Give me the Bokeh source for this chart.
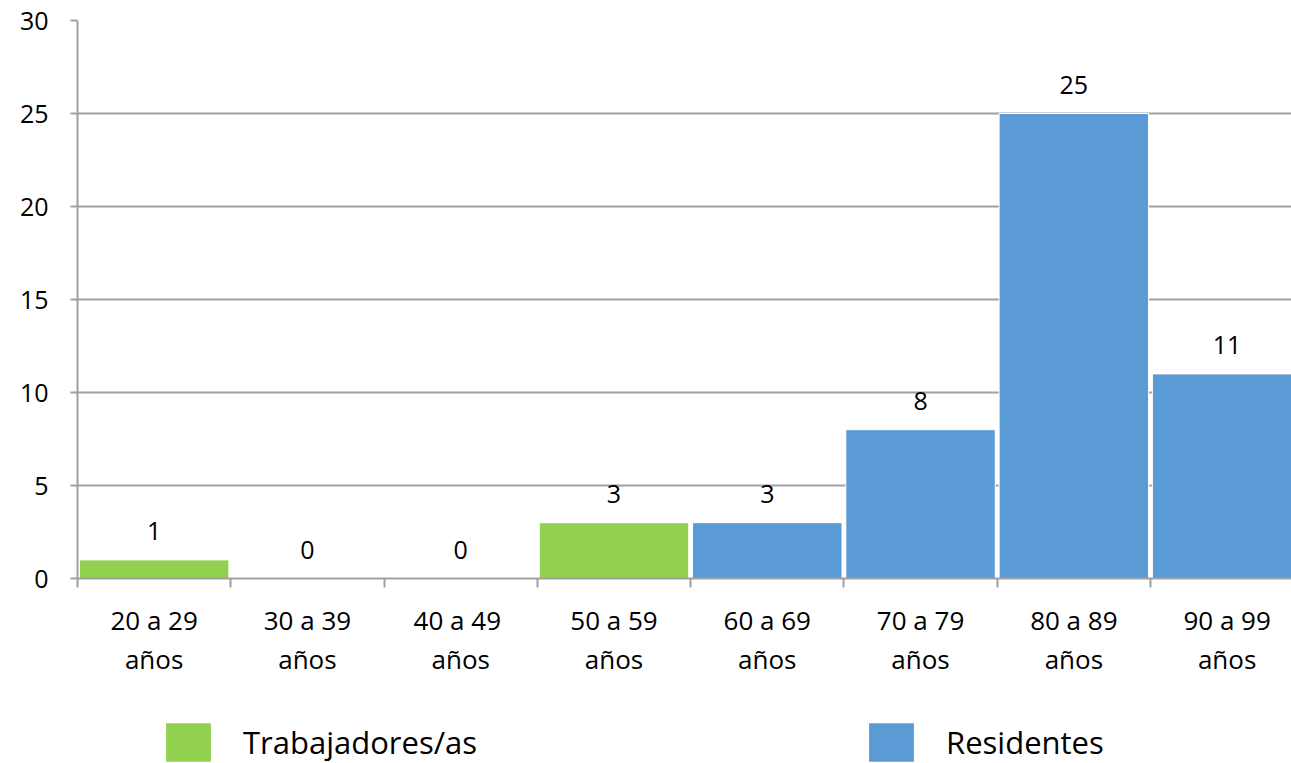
from bokeh.plotting import figure
from bokeh.layouts import column
from bokeh.models import (FixedTicker, Legend, LegendItem, Range1d, ColumnDataSource)
from bokeh.core.properties import value
from bokeh.embed import file_html
from bokeh.resources import INLINE

# ---- data ----
categories = ["20 a 29\naños", "30 a 39\naños", "40  a 49\naños", "50 a 59\naños",
              "60 a 69\naños", "70 a 79\naños", "80 a 89\naños", "90 a 99\naños"]
trab_cats = categories[:4]
trabajadores = [1, 0, 0, 3]
res_cats = categories[4:]
residentes = [3, 8, 25, 11]
y_ticks = [0, 5, 10, 15, 20, 25, 30]
series_names = ["Trabajadores/as", "Residentes"]

GREEN = "#92D050"
BLUE = "#5B9BD5"
GRAY = "#A0A0A0"
FONT = "Open Sans"

pos = {c: i + 0.5 for i, c in enumerate(categories)}
centers = [pos[c] for c in categories]
bounds = list(range(len(categories) + 1))

src_t = ColumnDataSource(dict(x=[pos[c] for c in trab_cats], top=trabajadores,
                              lbl=[str(v) for v in trabajadores]))
src_r = ColumnDataSource(dict(x=[pos[c] for c in res_cats], top=residentes,
                              lbl=[str(v) for v in residentes]))

p = figure(width=1291, height=688, x_range=Range1d(0, 7.92), y_range=Range1d(0, 30),
           output_backend="svg", toolbar_location=None,
           min_border_left=77, min_border_top=20, min_border_right=0,
           min_border_bottom=110)
p.outline_line_color = None

p.vbar(x="x", top="top", width=0.975, bottom=0, source=src_t,
       fill_color=GREEN, line_color="white", line_width=1)
p.vbar(x="x", top="top", width=0.975, bottom=0, source=src_r,
       fill_color=BLUE, line_color="white", line_width=1)

for s in (src_t, src_r):
    p.text(x="x", y="top", text="lbl", source=s, text_align="center",
           text_baseline="middle", y_offset=-29, text_font=value(FONT),
           text_font_size="25px", text_color="black")

# y axis
ya = p.yaxis[0]
ya.ticker = FixedTicker(ticks=y_ticks)
ya.major_tick_out = 7
ya.major_tick_in = 0
ya.minor_tick_line_color = None
ya.axis_line_color = GRAY
ya.axis_line_width = 2
ya.major_tick_line_color = GRAY
ya.major_tick_line_width = 2
ya.major_label_text_font = FONT
ya.major_label_text_font_size = "25px"
ya.major_label_text_color = "black"
ya.major_label_standoff = 22

p.ygrid.ticker = FixedTicker(ticks=y_ticks)
p.ygrid.grid_line_color = GRAY
p.ygrid.grid_line_width = 2
p.xgrid.grid_line_color = None

# x axis: labels at category centres, tick marks at category boundaries
xa = p.xaxis[0]
xa.ticker = FixedTicker(ticks=centers, minor_ticks=bounds)
xa.major_label_overrides = {pos[c]: c for c in categories}
xa.major_tick_line_color = None
xa.major_tick_out = 0
xa.major_tick_in = 0
xa.minor_tick_out = 9
xa.minor_tick_in = 0
xa.minor_tick_line_color = GRAY
xa.minor_tick_line_width = 2
xa.axis_line_color = GRAY
xa.axis_line_width = 2
xa.major_label_text_font = FONT
xa.major_label_text_font_size = "26px"
xa.major_label_text_color = "black"
xa.major_label_text_line_height = 1.1
xa.major_label_standoff = 14

# legend in its own strip below
pl = figure(width=1291, height=75, x_range=Range1d(0, 1), y_range=Range1d(0, 1),
            output_backend="svg", toolbar_location=None, x_axis_type=None,
            y_axis_type=None, min_border=0, min_border_left=77)
pl.outline_line_color = None
pl.xgrid.grid_line_color = None
pl.ygrid.grid_line_color = None
# placeholder glyphs (outside the visible range) that only feed the legend swatches
d1 = pl.vbar(x=[-5], top=[0], width=0.1, fill_color=GREEN, line_color=None)
d2 = pl.vbar(x=[-5], top=[0], width=0.1, fill_color=BLUE, line_color=None)
legend = Legend(items=[LegendItem(label=series_names[0], renderers=[d1]),
                       LegendItem(label=series_names[1], renderers=[d2])],
                orientation="horizontal", glyph_width=56, glyph_height=48,
                label_text_font=FONT, label_text_font_size="31px",
                label_text_color="black", label_standoff=27, spacing=386,
                padding=0, margin=0, border_line_color=None,
                background_fill_alpha=0, location=(83, -3))
pl.add_layout(legend)

layout = column(p, pl, spacing=0)
open("out.html", "w").write(file_html(layout, INLINE))
